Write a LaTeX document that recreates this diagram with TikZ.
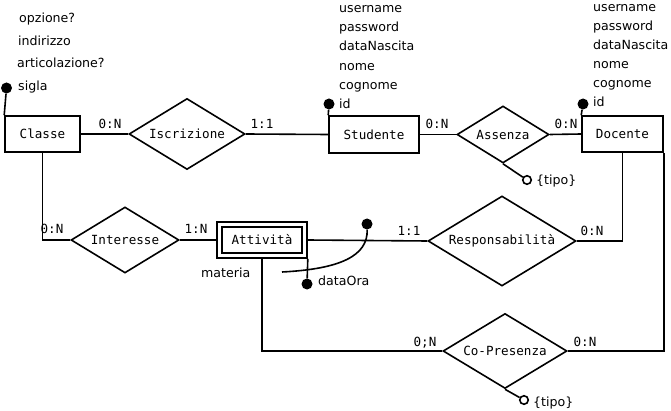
\documentclass[tikz,border=0pt]{standalone}
\usepackage{fontspec}
\setmainfont{DejaVu Sans}
\setmonofont{DejaVu Sans Mono}
\usetikzlibrary{shapes.geometric}
\tikzset{
  ln/.style={line width=1.6pt},
  ent/.style={draw, line width=1.6pt, rectangle, inner sep=0pt, font=\ttfamily\fontsize{12.6}{14}\selectfont},
  rel/.style={draw, line width=1.6pt, diamond, inner sep=0pt},
  rlab/.style={font=\ttfamily\fontsize{12.6}{14}\selectfont, inner sep=0pt},
  card/.style={font=\ttfamily\fontsize{12.6}{14}\selectfont, inner sep=0pt, text height=9pt, text depth=1pt},
  attr/.style={font=\fontsize{12.6}{14}\selectfont, inner sep=0pt, anchor=west, text height=9pt, text depth=2.5pt},
  fdot/.style={circle, fill=black, inner sep=0pt, minimum size=11pt},
  odot/.style={circle, draw, line width=1.6pt, fill=white, inner sep=0pt, minimum size=8.5pt},
}
\begin{document}
\begin{tikzpicture}[x=1pt,y=-1pt]
\useasboundingbox (0,0) rectangle (671,411);
% entities
\node[ent, minimum width=75pt, minimum height=36pt] (classe) at (42.5,134) {Classe};
\node[ent, minimum width=90pt, minimum height=37pt] (stud) at (374,134.5) {Studente};
\node[ent, minimum width=81pt, minimum height=36pt] (doc) at (622.5,134) {Docente};
\node[ent, minimum width=90pt, minimum height=36pt] (att) at (262,240) {};
\node[ent, minimum width=80pt, minimum height=26pt] (attin) at (262,240) {Attività};
% relationships
\node[rel, minimum width=116pt, minimum height=71pt] (iscr) at (187,134) {};
\node[rlab] at (iscr.center) {Iscrizione};
\node[rel, minimum width=92pt, minimum height=57pt] (ass) at (503,134.5) {};
\node[rlab] at (ass.center) {Assenza};
\node[rel, minimum width=108pt, minimum height=66pt] (inter) at (125,240) {};
\node[rlab] at (inter.center) {Interesse};
\node[rel, minimum width=148pt, minimum height=90pt] (resp) at (502,241) {};
\node[rlab] at (resp.center) {Responsabilità};
\node[rel, minimum width=124pt, minimum height=75pt] (copr) at (505,351) {};
\node[rlab] at (copr.center) {Co-Presenza};
% connectors
\draw[ln] (classe.east) -- (iscr.west);
\draw[ln] (iscr.east) -- (stud.west);
\draw[ln] (stud.east) -- (ass.west);
\draw[ln] (ass.east) -- (doc.west);
\draw[ln] (classe.south) |- (inter.west);
\draw[ln] (inter.east) -- (att.west);
\draw[ln] (att.east) -- (resp.west);
\draw[ln] (resp.east) -| (doc.south);
\draw[ln] (att.south) |- (copr.west);
\draw[ln] (copr.east) -| (doc.south east);
% cardinalities
\node[card] (c1) at (110,125) {0:N};
\node[card] (c2) at (262,125) {1:1};
\node[card] (c3) at (437,125) {0:N};
\node[card] (c4) at (566,125) {0:N};
\node[card] (c5) at (52,230) {0:N};
\node[card] (c6) at (196,230) {1:N};
\node[card] (c7) at (409,232) {1:1};
\node[card] (c8) at (592,232) {0:N};
\node[card] (c9) at (425,342) {0;N};
\node[card] (c10) at (585,342) {0:N};
% Classe attributes
\node[fdot] (sigladot) at (6.5,88) {};
\draw[ln] (classe.north west) -- (sigladot);
\node[attr] (a1) at (19,19) {opzione?};
\node[attr] (a2) at (18,42) {indirizzo};
\node[attr] (a3) at (17,64) {articolazione?};
\node[attr] (a4) at (18,87) {sigla};
% Studente attributes
\node[fdot] (studid) at (329,104) {};
\draw[ln] (stud.north west) -- (studid);
\node[attr] (s1) at (339,9) {username};
\node[attr] (s2) at (339,28) {password};
\node[attr] (s3) at (339,47) {dataNascita};
\node[attr] (s4) at (339,67) {nome};
\node[attr] (s5) at (339,86) {cognome};
\node[attr] (s6) at (339,105) {id};
% Docente attributes
\node[fdot] (docid) at (583,104) {};
\draw[ln] (doc.north west) -- (docid);
\node[attr] (d1) at (593,8) {username};
\node[attr] (d2) at (593,27) {password};
\node[attr] (d3) at (593,46) {dataNascita};
\node[attr] (d4) at (593,65) {nome};
\node[attr] (d5) at (593,84) {cognome};
\node[attr] (d6) at (593,103) {id};
% Assenza tipo
\node[odot] (tipo1) at (527,180) {};
\draw[ln] (ass.south) -- (tipo1);
\node[attr] (t1) at (536,181) {\{tipo\}};
% Co-Presenza tipo
\node[odot] (tipo2) at (524,400) {};
\draw[ln] (copr.south) -- (tipo2);
\node[attr] (t2) at (533,403) {\{tipo\}};
% Attivita attributes
\node[fdot] (dataora) at (307,284) {};
\draw[ln] (att.south east) -- (dataora);
\node[attr] (o1) at (318,282) {dataOra};
\node[attr] (m1) at (201,274) {materia};
\node[fdot] (attid) at (367,224) {};
\coordinate (cstart) at (282,272);
\draw[ln] (cstart) .. controls (340,269) and (368,256) .. (attid);
\end{tikzpicture}
\end{document}
